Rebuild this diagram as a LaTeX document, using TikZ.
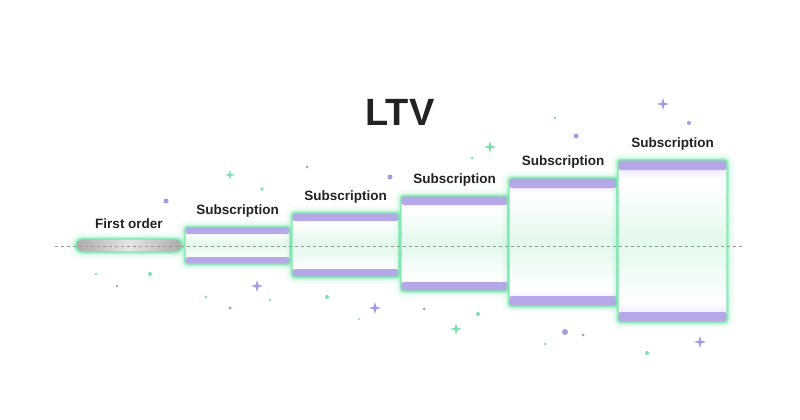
\documentclass[tikz,border=0pt]{standalone}
\usepackage{fontspec}
\setmainfont{Liberation Sans}
\usetikzlibrary{positioning}
\definecolor{band}{HTML}{B6A7E9}
\definecolor{lav}{HTML}{E2D9F8}
\definecolor{mint}{HTML}{E2F9EC}
\definecolor{glow}{HTML}{6FE7A7}
\definecolor{rim}{HTML}{80E8B0}
\definecolor{spark}{HTML}{A899E2}
\definecolor{sparkg}{HTML}{7BE3A9}
\definecolor{ink}{HTML}{222222}
\definecolor{pillend}{HTML}{ABABAB}
\definecolor{pillmid}{HTML}{E6E6E6}
\pgfdeclareverticalshading{boxfade}{100bp}{color(0bp)=(lav); color(25bp)=(lav); color(31bp)=(white); color(50bp)=(mint); color(69bp)=(white); color(75bp)=(lav); color(100bp)=(lav)}

\begin{document}
\begin{tikzpicture}[x=1pt, y=-1pt,
    glowing/.style={preaction={draw=glow, line width=13pt, opacity=0.08},
      preaction={draw=glow, line width=7pt, opacity=0.18},
      preaction={draw=glow, line width=3.5pt, opacity=0.4},
      draw=rim, line width=1.2pt},
    subbox/.style={glowing, rounded corners=3pt, shading=boxfade, inner sep=0pt,
      path picture={
        \fill[band] (path picture bounding box.north west) rectangle ([yshift=-#1]path picture bounding box.north east);
        \fill[band] (path picture bounding box.south west) rectangle ([yshift=#1]path picture bounding box.south east);}},
    subbox/.default=10pt,
    pill/.style={glowing, rounded corners=6.5pt, inner sep=0pt, left color=pillend, right color=pillend, middle color=pillmid},
    lbl/.style={font=\bfseries\fontsize{13.5}{14}\selectfont, text=ink, inner sep=0pt}]
  \useasboundingbox[fill=white] (0,0) rectangle (800,420);

  % title
  \node[font=\bfseries\fontsize{38}{40}\selectfont, text=ink] (ltv) at (400,112) {LTV};

  % sparkles
  \foreach \x/\y/\r in {166/201/2.5, 307/167/1.5, 390/177/2.5, 689/123/2, 576/136/2.5, 117/286/1.3,
      230/308/1.6, 424/309/1.5, 565/332/3, 583/335/1.5}
    \fill[spark] (\x,\y) circle (\r pt);
  \foreach \x/\y/\r in {262/189/1.8, 555/118/1.3, 472/158/1.5, 96/274/1.3, 150/274/2, 206/297/1.5,
      270/300/1.3, 327/297/2, 359/319/1.2, 478/314/2, 545/344/1.3, 647/353/2}
    \fill[sparkg] (\x,\y) circle (\r pt);
  \foreach \x/\y/\r/\c in {663/104/6/spark, 257/286/6/spark, 375/308/6/spark, 700/342/6/spark,
      490/147/6/sparkg, 456/329/6/sparkg, 230/175/5/sparkg}
    \fill[\c] (\x,\y) +(0,-\r) -- +(0.22*\r,-0.22*\r) -- +(\r,0) -- +(0.22*\r,0.22*\r)
      -- +(0,\r) -- +(-0.22*\r,0.22*\r) -- +(-\r,0) -- +(-0.22*\r,-0.22*\r) -- cycle;

  % steps
  \node[pill, minimum width=106pt, minimum height=13pt] (fo) at (129,245.5) {};
  \node[subbox=7pt, minimum width=105pt, minimum height=37pt] (s1) at (237.5,245.5) {};
  \node[subbox=8pt, minimum width=107pt, minimum height=64pt] (s2) at (345.5,245) {};
  \node[subbox=9pt, minimum width=107pt, minimum height=95pt] (s3) at (454.5,243.5) {};
  \node[subbox, minimum width=108pt, minimum height=128pt] (s4) at (563,242) {};
  \node[subbox, minimum width=109pt, minimum height=162pt] (s5) at (672.5,241) {};

  \node[lbl, above=10pt of fo] (fol) {First order};
  \foreach \s in {s1,s2,s3,s4,s5}
    \node[lbl, above=9pt of \s] (\s l) {Subscription};

  % baseline
  \coordinate (dl) at (55,246);
  \coordinate (dr) at (745,246);
  \draw[gray!80, line width=0.5pt, dash pattern=on 3pt off 3pt] (dl) -- (dr);
\end{tikzpicture}
\end{document}
